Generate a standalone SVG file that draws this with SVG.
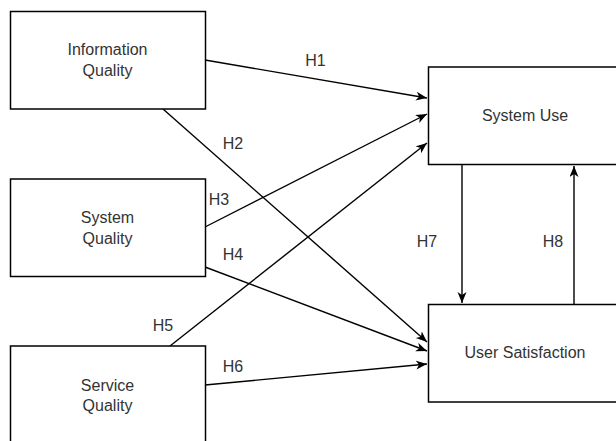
<svg xmlns="http://www.w3.org/2000/svg" width="616" height="441" viewBox="0 0 616 441">
<style>
.box{fill:#fff;stroke:#000;stroke-width:1.5}
.t{font-family:"Liberation Sans",Arial,sans-serif;font-size:16px;fill:#333;text-anchor:middle}
.c{fill:none;stroke:#000;stroke-width:1.4}
</style>
<defs>
<marker id="arr" markerUnits="userSpaceOnUse" markerWidth="12" markerHeight="10" refX="11" refY="4.5" orient="auto">
<path d="M0,0 L11,4.5 L0,9 L3,4.5 z" fill="#000"/>
</marker>
</defs>
<rect width="616" height="441" fill="#fff"/>
<g id="connectors">
<line class="c" x1="205" y1="60" x2="427" y2="98" marker-end="url(#arr)"/>
<line class="c" x1="163" y1="109" x2="427" y2="342" marker-end="url(#arr)"/>
<line class="c" x1="205" y1="227" x2="427" y2="114" marker-end="url(#arr)"/>
<line class="c" x1="205" y1="267" x2="427" y2="351" marker-end="url(#arr)"/>
<line class="c" x1="170" y1="346" x2="427" y2="143" marker-end="url(#arr)"/>
<line class="c" x1="205" y1="385" x2="427" y2="364" marker-end="url(#arr)"/>
<line class="c" x1="462" y1="165" x2="462" y2="303" marker-end="url(#arr)"/>
<line class="c" x1="574" y1="304" x2="574" y2="166" marker-end="url(#arr)"/>
<text class="t" x="315.5" y="66">H1</text>
<text class="t" x="233" y="149">H2</text>
<text class="t" x="219" y="205">H3</text>
<text class="t" x="233" y="260">H4</text>
<text class="t" x="163" y="331">H5</text>
<text class="t" x="233" y="371.5">H6</text>
<text class="t" x="427" y="247">H7</text>
<text class="t" x="553" y="247">H8</text>
</g>
<g id="information-quality">
<rect class="box" x="10.5" y="11.5" width="195" height="97.5"/>
<text class="t" x="107.5" y="54.5">Information</text>
<text class="t" x="107.5" y="75.5">Quality</text>
</g>
<g id="system-quality">
<rect class="box" x="10.5" y="179" width="195" height="97.5"/>
<text class="t" x="107.5" y="222.5">System</text>
<text class="t" x="107.5" y="243.5">Quality</text>
</g>
<g id="service-quality">
<rect class="box" x="10.5" y="346" width="195" height="110"/>
<text class="t" x="107.5" y="390.5">Service</text>
<text class="t" x="107.5" y="411">Quality</text>
</g>
<g id="system-use">
<rect class="box" x="428.5" y="67" width="195" height="97.5"/>
<text class="t" x="525" y="120.5">System Use</text>
</g>
<g id="user-satisfaction">
<rect class="box" x="428.5" y="304.5" width="195" height="97.5"/>
<text class="t" x="525" y="358">User Satisfaction</text>
</g>
</svg>
